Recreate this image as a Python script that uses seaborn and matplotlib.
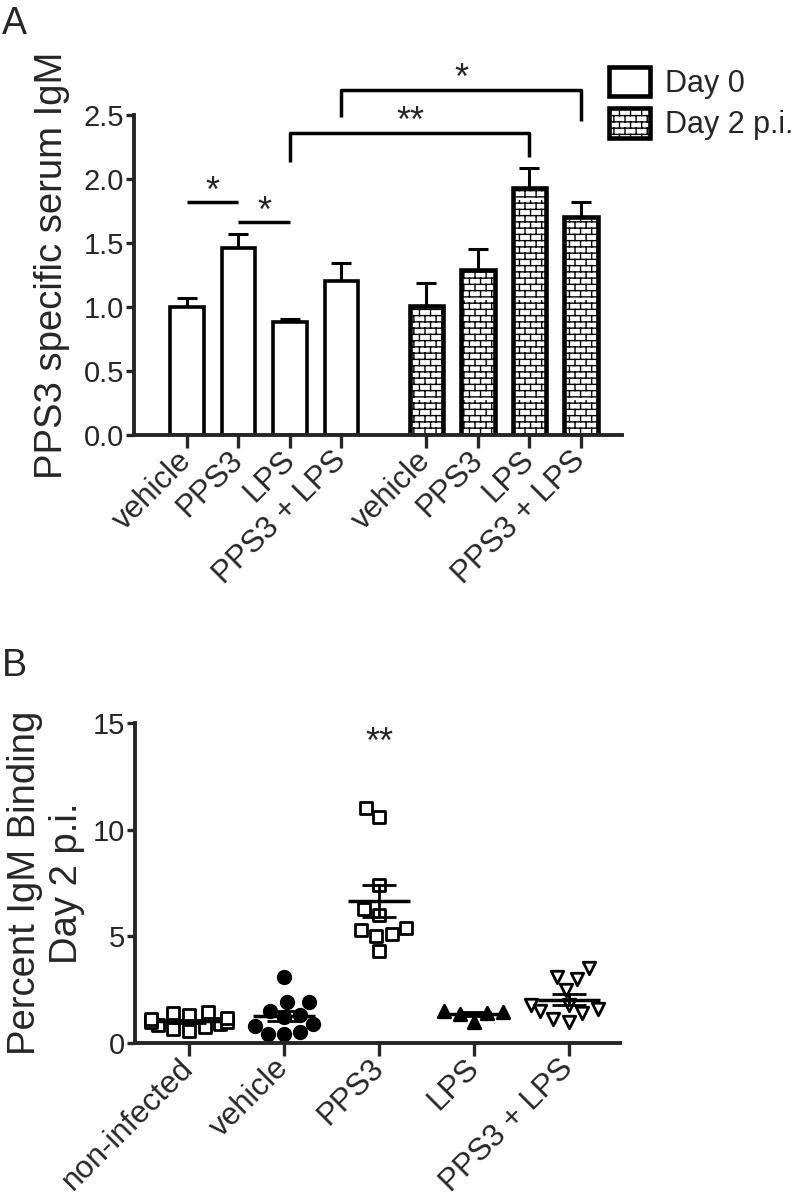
import numpy as np
import pandas as pd
import matplotlib
matplotlib.use("Agg")
import matplotlib.pyplot as plt
import matplotlib.hatch as mhatch
import matplotlib.patches as mpatches
from matplotlib.path import Path
import seaborn as sns

# panel A: PPS3 specific serum IgM (mean, sem)
treatments = ["vehicle", "PPS3", "LPS", "PPS3 + LPS"]
day0_mean = [1.00, 1.46, 0.88, 1.20]
day0_sem = [0.07, 0.11, 0.03, 0.14]
day2_mean = [1.01, 1.29, 1.93, 1.70]
day2_sem = [0.18, 0.16, 0.16, 0.12]

# panel B: percent IgM binding, day 2 p.i.
groups = ["non-infected", "vehicle", "PPS3", "LPS", "PPS3 + LPS"]
non_infected = [0.55, 0.65, 0.75, 0.85, 0.9, 1.0, 1.0, 1.1, 1.15, 1.3, 1.4, 1.45]
vehicle = [3.1, 1.9, 1.9, 1.5, 1.3, 1.2, 0.9, 0.8, 0.5, 0.4, 0.4]
pps3 = [11.0, 10.6, 7.4, 6.3, 6.0, 5.4, 5.3, 5.1, 5.0, 4.3]
lps = [1.4, 1.0, 1.35, 1.45, 1.5]
pps3_lps = [3.5, 3.1, 3.0, 2.5, 1.8, 1.8, 1.6, 1.5, 1.4, 1.1, 1.0]


# brick hatch ('b') for the day 2 bars
class BrickHatch(mhatch.HatchPatternBase):
    rows, cols = 16, 9

    def __init__(self, hatch, density):
        on = "b" in hatch
        self.num_vertices = (2 * self.rows + 2 * self.rows * self.cols) if on else 0

    def set_vertices_and_codes(self, vertices, codes):
        n, m = self.rows, self.cols
        k = 0
        for i in range(n):
            y0 = (i + 0.5) / n
            y1 = (i + 1.5) / n
            vertices[k] = (0, y0)
            vertices[k + 1] = (1, y0)
            k += 2
            shift = 0.5 / m if i % 2 else 0.0
            for j in range(m):
                x = (j + 0.25) / m + shift
                vertices[k] = (x, y0)
                vertices[k + 1] = (x, y1)
                k += 2
        codes[0::2] = Path.MOVETO
        codes[1::2] = Path.LINETO


mhatch._hatch_types.append(BrickHatch)

sns.set_style("ticks")
plt.rcParams["font.family"] = ["Liberation Sans", "DejaVu Sans"]
plt.rcParams["hatch.linewidth"] = 1.0

fig = plt.figure(figsize=(8.1, 11.97), dpi=100)
ax1 = fig.add_axes([0.1654, 0.6366, 0.6025, 0.2673])
ax2 = fig.add_axes([0.1667, 0.1287, 0.5990, 0.2673])

# ---------------- panel A ----------------
pos0 = [0, 1, 2, 3]
pos2 = [4.65, 5.65, 6.65, 7.65]
df0 = pd.DataFrame({"pos": pos0, "value": day0_mean})
df2 = pd.DataFrame({"pos": pos2, "value": day2_mean})

ax1.errorbar(pos0, day0_mean, yerr=[np.zeros(4), day0_sem], fmt="none", ecolor="black",
             elinewidth=2.2, capsize=7, capthick=2.2, zorder=1)
ax1.errorbar(pos2, day2_mean, yerr=[np.zeros(4), day2_sem], fmt="none", ecolor="black",
             elinewidth=2.2, capsize=7, capthick=2.2, zorder=1)
sns.barplot(data=df0, x="pos", y="value", native_scale=True, width=0.65, color="white",
            edgecolor="black", linewidth=2.6, errorbar=None, ax=ax1, zorder=2)
sns.barplot(data=df2, x="pos", y="value", native_scale=True, width=0.65, color="white",
            edgecolor="black", linewidth=3.3, errorbar=None, ax=ax1, hatch="b", zorder=2)

ax1.set_xlim(-1.03, 8.45)
ax1.set_ylim(0, 2.5)
ax1.set_yticks([0, 0.5, 1.0, 1.5, 2.0, 2.5])
ax1.set_yticklabels(["0.0", "0.5", "1.0", "1.5", "2.0", "2.5"])
ax1.set_xticks(pos0 + pos2)
ax1.set_xticklabels(treatments + treatments, rotation=45, ha="right", va="center",
                    rotation_mode="anchor")
ax1.set_xlabel("")
ax1.set_ylabel("PPS3 specific serum IgM", fontsize=27.5)
ax1.yaxis.set_label_coords(-0.131, 0.53)

# significance marks
kw = dict(color="black", lw=2.5, clip_on=False, solid_capstyle="butt")
ax1.plot([0, 1], [1.823, 1.823], **kw)
ax1.text(0.5, 1.823, "*", ha="center", va="baseline", fontsize=26)
ax1.plot([1, 2], [1.667, 1.667], **kw)
ax1.text(1.5, 1.667, "*", ha="center", va="baseline", fontsize=26)
ax1.plot([2, 2, 6.65, 6.65], [2.135, 2.362, 2.362, 2.17], **kw)
ax1.text(4.33, 2.37, "**", ha="center", va="baseline", fontsize=26)
ax1.plot([3, 3, 7.65, 7.65], [2.487, 2.695, 2.695, 2.45], **kw)
ax1.text(5.33, 2.70, "*", ha="center", va="baseline", fontsize=26)

handles = [mpatches.Patch(facecolor="white", edgecolor="black", lw=3.3, label="Day 0"),
           mpatches.Patch(facecolor="white", edgecolor="black", lw=3.3, hatch="b",
                          label="Day 2 p.i.")]
fig.legend(handles=handles, loc="upper left", bbox_to_anchor=(609 / 810, 1 - 67 / 1197),
           frameon=False, fontsize=22, handlelength=1.34, handleheight=1.1,
           handletextpad=0.5, labelspacing=0.3, borderpad=0, borderaxespad=0)

# ---------------- panel B ----------------
values = [non_infected, vehicle, pps3, lps, pps3_lps]
dfb = pd.DataFrame({"group": np.repeat(groups, [len(v) for v in values]),
                    "value": np.concatenate(values)})
styles = {"non-infected": ("s", "white"), "vehicle": ("o", "black"),
          "PPS3": ("s", "white"), "LPS": ("^", "black"), "PPS3 + LPS": ("v", "white")}
for g in groups:
    m, fc = styles[g]
    sns.swarmplot(data=dfb[dfb["group"] == g], x="group", y="value", order=groups,
                  marker=m, color=fc, edgecolor="black", linewidth=2, size=9,
                  ax=ax2, zorder=2)

stats = dfb.groupby("group", sort=False)["value"].agg(["mean", "std", "count"])
for i, g in enumerate(groups):
    mu = stats.loc[g, "mean"]
    se = stats.loc[g, "std"] / np.sqrt(stats.loc[g, "count"])
    ax2.hlines(mu, i - 0.33, i + 0.33, color="black", lw=2.5, zorder=4)
    ax2.errorbar(i, mu, yerr=se, fmt="none", ecolor="black", elinewidth=2,
                 capsize=12, capthick=2, zorder=4)
ax2.text(2, 13.6, "**", ha="center", va="baseline", fontsize=26)

ax2.set_xlim(-0.57, 4.54)
ax2.set_ylim(0, 15)
ax2.set_yticks([0, 5, 10, 15])
ax2.set_xticks(range(len(groups)))
ax2.set_xticklabels(groups, rotation=45, ha="right", va="center", rotation_mode="anchor")
ax2.set_xlabel("")
ax2.set_ylabel("Percent IgM Binding\nDay 2 p.i.", fontsize=27.5)
ax2.yaxis.set_label_coords(-0.103, 0.5)

for ax in (ax1, ax2):
    sns.despine(ax=ax)
    for s in ("left", "bottom"):
        ax.spines[s].set_linewidth(2.8)
    ax.tick_params(axis="x", length=9, width=2.4, labelsize=22.5, pad=6)
    ax.tick_params(axis="y", length=6, width=2.4, labelsize=21, pad=1)

fig.text(0.002, 1 - 6 / 1197, "A", fontsize=27, va="top", ha="left")
fig.text(0.002, 1 - 648 / 1197, "B", fontsize=27, va="top", ha="left")

fig.savefig("out.png", dpi=100)
